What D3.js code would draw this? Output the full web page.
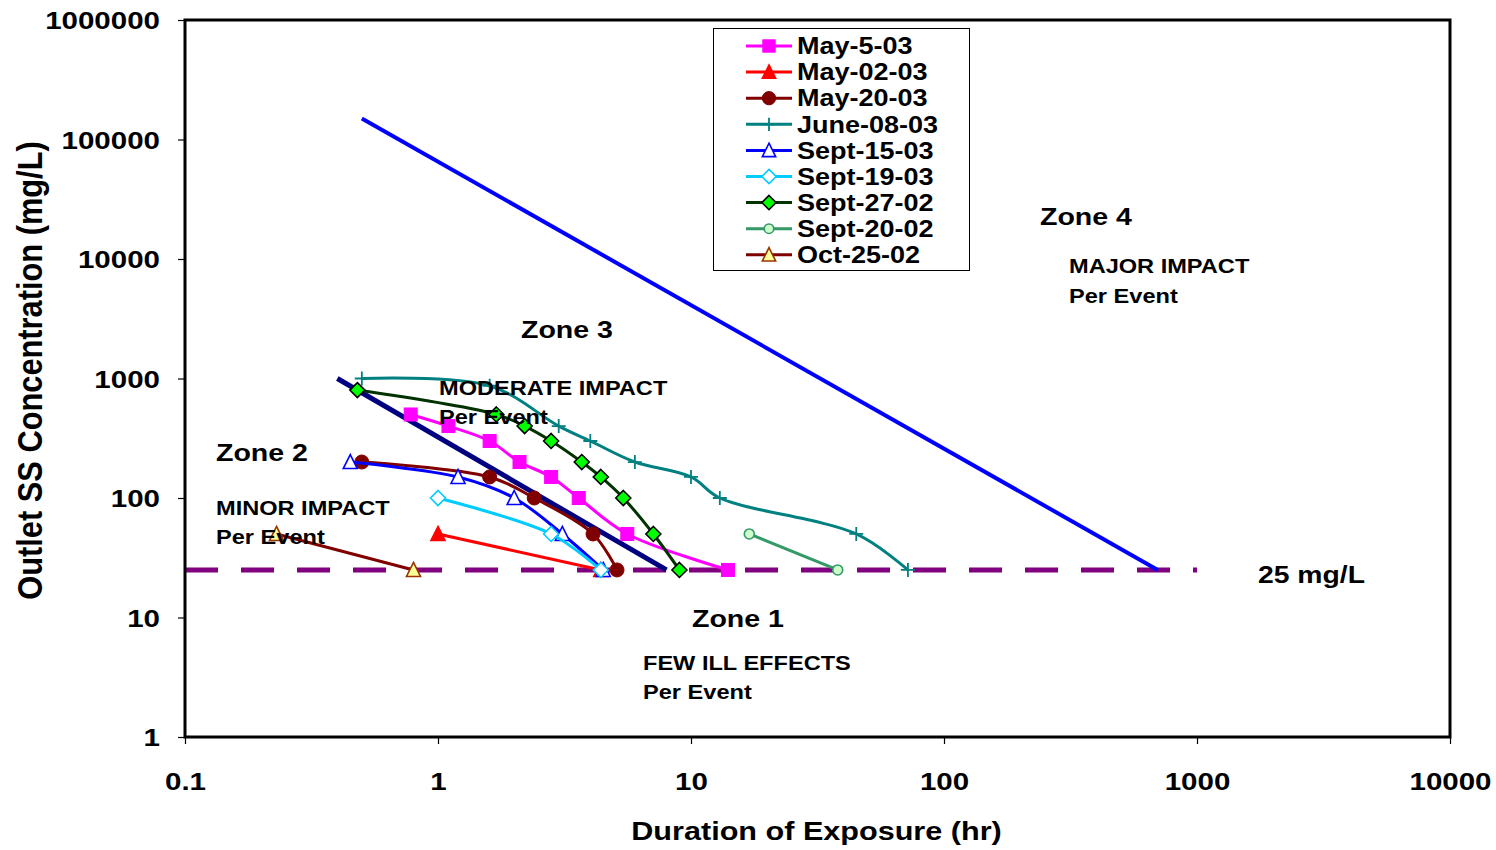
<!DOCTYPE html>
<html>
<head>
<meta charset="utf-8">
<script src="https://cdn.jsdelivr.net/npm/d3@7"></script>
<style>
  html, body { margin: 0; padding: 0; background: #fff; }
  svg { display: block; }
  text { font-family: "Liberation Sans", Arial, sans-serif; font-weight: bold; fill: #000; }
</style>
</head>
<body>
<svg id="chart" width="1496" height="850"></svg>
<script>
// ---- data: duration of exposure (hr) vs outlet SS concentration (mg/L) ----
const may5X   = [0.78, 1.1, 1.6, 2.1, 2.8, 3.6, 5.6, 14];
const may5Y   = [500, 400, 300, 200, 150, 100, 50, 25];
const may02X  = [1.0, 4.4];
const may02Y  = [50, 25];
const may20X  = [0.5, 1.6, 2.4, 4.1, 5.1];
const may20Y  = [200, 150, 100, 50, 25];
const june08X = [0.5, 1.6, 3.0, 4.0, 6.0, 10, 13, 45, 72];
const june08Y = [1000, 870, 400, 300, 200, 150, 100, 50, 25];
const sept15X = [0.45, 1.2, 2.0, 3.1, 4.5];
const sept15Y = [200, 150, 100, 50, 25];
const sept19X = [1.0, 2.8, 4.4];
const sept19Y = [100, 50, 25];
const sept27X = [0.48, 1.7, 2.2, 2.8, 3.7, 4.4, 5.4, 7.1, 9.0];
const sept27Y = [800, 500, 400, 300, 200, 150, 100, 50, 25];
const sept20X = [17, 38];
const sept20Y = [50, 25];
const oct25X  = [0.23, 0.8];
const oct25Y  = [50, 25];

// zone boundary lines and the 25 mg/L threshold
const majorBoundX = [0.5, 700];
const majorBoundY = [150000, 25];
const minorBoundX = [0.4, 8];
const minorBoundY = [1000, 25];
const thresholdX  = [0.1, 1000];
const thresholdY  = [25, 25];

const xTicks = [0.1, 1, 10, 100, 1000, 10000];
const yTicks = [1, 10, 100, 1000, 10000, 100000, 1000000];

const series = [
  { name: "May-5-03",    xs: may5X,   ys: may5Y,   line: "#FF00FF", marker: "square",   fill: "#FF00FF", edge: "#FF00FF", smooth: true },
  { name: "May-02-03",   xs: may02X,  ys: may02Y,  line: "#FF0000", marker: "triangle", fill: "#FF0000", edge: "#FF0000", smooth: false },
  { name: "May-20-03",   xs: may20X,  ys: may20Y,  line: "#800000", marker: "circle",   fill: "#800000", edge: "#800000", smooth: true },
  { name: "June-08-03",  xs: june08X, ys: june08Y, line: "#008080", marker: "plus",     fill: "none",    edge: "#008080", smooth: true },
  { name: "Sept-15-03",  xs: sept15X, ys: sept15Y, line: "#0000FF", marker: "triangle", fill: "#FFFFFF", edge: "#0000FF", smooth: true },
  { name: "Sept-19-03",  xs: sept19X, ys: sept19Y, line: "#00CCFF", marker: "diamond",  fill: "#FFFFFF", edge: "#00CCFF", smooth: true },
  { name: "Sept-27-02",  xs: sept27X, ys: sept27Y, line: "#003300", marker: "diamond",  fill: "#00FF00", edge: "#000000", smooth: true },
  { name: "Sept-20-02",  xs: sept20X, ys: sept20Y, line: "#339966", marker: "smallcircle", fill: "#CCFFCC", edge: "#339966", smooth: false },
  { name: "Oct-25-02",   xs: oct25X,  ys: oct25Y,  line: "#800000", marker: "triangle", fill: "#FFFF99", edge: "#993300", smooth: false }
];

// ---- layout ----
const plot = { left: 185, right: 1450, top: 20, bottom: 737 };
const svg = d3.select("#chart");

const x = d3.scaleLog().domain([0.1, 10000]).range([plot.left, plot.right]);
const y = d3.scaleLog().domain([1, 1000000]).range([plot.bottom, plot.top]);

const zip = (xs, ys) => xs.map((v, i) => [v, ys[i]]);

// text rendered slightly widened, as in the original sheet export
function label(g, txt, px, py, size, sx, anchor) {
  return g.append("text")
    .attr("transform", `translate(${px},${py}) scale(${sx},1)`)
    .attr("text-anchor", anchor || "start")
    .attr("dy", "0.35em")
    .style("font-size", size + "px")
    .text(txt);
}

// ---- axes ----
const tickSX = 1.23;
const yAxis = d3.axisLeft(y).tickValues(yTicks).tickFormat(d3.format("d")).tickSize(7).tickSizeOuter(0);
const yg = svg.append("g").attr("transform", `translate(${plot.left},0)`).call(yAxis);
yg.select(".domain").remove();
yg.selectAll(".tick line").attr("stroke", "#000").attr("stroke-width", 1.2);
yg.selectAll(".tick text")
  .attr("x", -25 / tickSX).attr("dy", "0.36em")
  .attr("transform", `scale(${tickSX},1)`)
  .style("font-size", "24px").style("font-family", null);

const xAxis = d3.axisBottom(x).tickValues(xTicks).tickFormat(d => d3.format("~g")(d)).tickSize(7).tickSizeOuter(0);
const xg = svg.append("g").attr("transform", `translate(0,${plot.bottom})`).call(xAxis);
xg.select(".domain").remove();
xg.selectAll(".tick line").attr("stroke", "#000").attr("stroke-width", 1.2);
xg.selectAll(".tick text")
  .attr("y", 53).attr("dy", "0")
  .attr("transform", `scale(${tickSX},1)`)
  .style("font-size", "24px").style("font-family", null);

// axis titles
label(svg, "Duration of Exposure (hr)", (plot.left + plot.right) / 2 - 1, 831, 25.5, 1.2, "middle");
svg.append("text")
  .attr("transform", `translate(30,${(143 + 598) / 2}) scale(1.12,1) rotate(-90)`)
  .attr("text-anchor", "middle")
  .attr("dy", "0.35em")
  .style("font-size", "30.8px")
  .text("Outlet SS Concentration (mg/L)");

// ---- reference lines ----
const straight = d3.line().x(d => x(d[0])).y(d => y(d[1]));
const gRef = svg.append("g");
gRef.append("path").attr("d", straight(zip(thresholdX, thresholdY)))
  .attr("fill", "none").attr("stroke", "#800080").attr("stroke-width", 5)
  .attr("stroke-dasharray", "33 23");
gRef.append("path").attr("d", straight(zip(minorBoundX, minorBoundY)))
  .attr("fill", "none").attr("stroke", "#000080").attr("stroke-width", 5);
gRef.append("path").attr("d", straight(zip(majorBoundX, majorBoundY)))
  .attr("fill", "none").attr("stroke", "#0000FF").attr("stroke-width", 4);

// ---- markers ----
function drawMarker(g, kind, cx, cy, fill, edge, scale) {
  const k = scale || 1;
  if (kind === "square") {
    const s = 13 * k;
    g.append("rect").attr("x", cx - s / 2).attr("y", cy - s / 2).attr("width", s).attr("height", s)
      .attr("fill", fill).attr("stroke", edge).attr("stroke-width", 1);
  } else if (kind === "triangle") {
    const h = 13 * k, w = 14 * k;
    g.append("path")
      .attr("d", `M${cx},${cy - h / 2 - 1}L${cx + w / 2},${cy + h / 2}L${cx - w / 2},${cy + h / 2}Z`)
      .attr("fill", fill).attr("stroke", edge).attr("stroke-width", 1.6);
  } else if (kind === "circle") {
    g.append("circle").attr("cx", cx).attr("cy", cy).attr("r", 7 * k)
      .attr("fill", fill).attr("stroke", edge).attr("stroke-width", 1);
  } else if (kind === "smallcircle") {
    g.append("circle").attr("cx", cx).attr("cy", cy).attr("r", 5 * k)
      .attr("fill", fill).attr("stroke", edge).attr("stroke-width", 1.6);
  } else if (kind === "diamond") {
    const r = 7.5 * k;
    g.append("path")
      .attr("d", `M${cx},${cy - r}L${cx + r},${cy}L${cx},${cy + r}L${cx - r},${cy}Z`)
      .attr("fill", fill).attr("stroke", edge).attr("stroke-width", 1.6);
  } else if (kind === "plus") {
    const r = 7 * k;
    g.append("path")
      .attr("d", `M${cx - r},${cy}H${cx + r}M${cx},${cy - r}V${cy + r}`)
      .attr("fill", "none").attr("stroke", edge).attr("stroke-width", 1.8);
  }
}

// ---- data series ----
const smooth = d3.line().x(d => x(d[0])).y(d => y(d[1])).curve(d3.curveCatmullRom.alpha(0.5));
const gSeries = svg.append("g");
series.forEach(s => {
  const pts = zip(s.xs, s.ys);
  gSeries.append("path")
    .attr("d", (s.smooth ? smooth : straight)(pts))
    .attr("fill", "none").attr("stroke", s.line).attr("stroke-width", 3)
    .attr("stroke-linejoin", "round");
  pts.forEach(p => drawMarker(gSeries, s.marker, x(p[0]), y(p[1]), s.fill, s.edge));
});

// ---- plot frame ----
svg.append("rect")
  .attr("x", plot.left).attr("y", plot.top)
  .attr("width", plot.right - plot.left).attr("height", plot.bottom - plot.top)
  .attr("fill", "none").attr("stroke", "#000").attr("stroke-width", 3);

// ---- zone annotations ----
const gNotes = svg.append("g");
const zoneNotes = [
  { t: "Zone 4", px: 1040, py: 217, big: true },
  { t: "MAJOR IMPACT", px: 1069, py: 266 },
  { t: "Per Event", px: 1069, py: 296 },
  { t: "Zone 3", px: 521, py: 330, big: true },
  { t: "MODERATE IMPACT", px: 439, py: 388 },
  { t: "Per Event", px: 439, py: 417 },
  { t: "Zone 2", px: 216, py: 453, big: true },
  { t: "MINOR IMPACT", px: 216, py: 508 },
  { t: "Per Event", px: 216, py: 537 },
  { t: "Zone 1", px: 692, py: 619, big: true },
  { t: "FEW ILL EFFECTS", px: 643, py: 663 },
  { t: "Per Event", px: 643, py: 692 }
];
zoneNotes.forEach(n => {
  if (n.big) label(gNotes, n.t, n.px, n.py, 24, 1.19);
  else label(gNotes, n.t, n.px, n.py, 19.5, 1.21);
});
label(gNotes, "25 mg/L", 1258, 575, 24, 1.18);

// ---- legend ----
const gLeg = svg.append("g");
gLeg.append("rect").attr("x", 713.5).attr("y", 28.5).attr("width", 256).attr("height", 242)
  .attr("fill", "#fff").attr("stroke", "#000").attr("stroke-width", 1);
series.forEach((s, i) => {
  const ly = 46 + i * 26.1;
  gLeg.append("line").attr("x1", 746).attr("x2", 792).attr("y1", ly).attr("y2", ly)
    .attr("stroke", s.line).attr("stroke-width", 3);
  drawMarker(gLeg, s.marker, 769, ly, s.fill, s.edge, 0.95);
  label(gLeg, s.name, 797, ly, 23.5, 1.15);
});
</script>
</body>
</html>
